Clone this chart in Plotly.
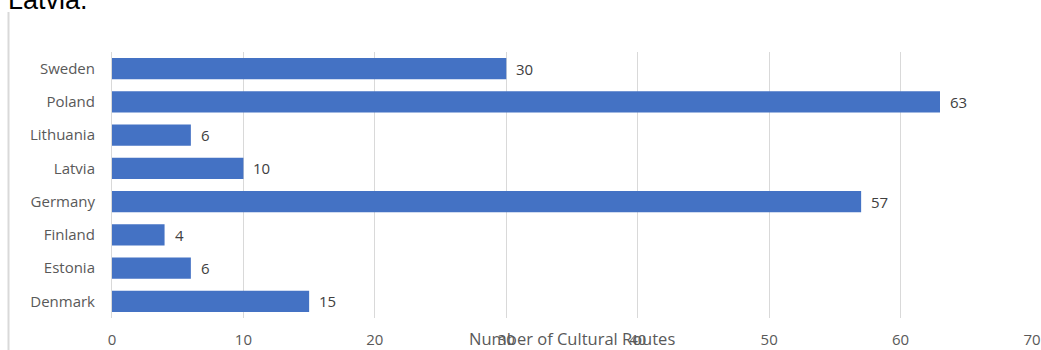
import plotly.graph_objects as go

countries = ["Denmark", "Estonia", "Finland", "Germany", "Latvia", "Lithuania", "Poland", "Sweden"]
routes = [15, 6, 4, 57, 10, 6, 63, 30]
x_ticks = [0, 10, 20, 30, 40, 50, 60, 70]
x_title = "Number of Cultural Routes"
top_text = "Latvia."

W, H = 1041, 350
ml, mr, mt, mb = 112, 9, 52, 32
pw = W - ml - mr
ph = H - mt - mb

font = "Open Sans, Noto Sans, sans-serif"
gray = "#595959"


def px_x(p):
    return (p - ml) / pw


def px_y(p):
    return (H - mb - p) / ph


fig = go.Figure(go.Bar(
    y=countries, x=routes, orientation="h",
    marker=dict(color="#4472C4", line=dict(width=0)),
    hoverinfo="x+y",
))

annotations = [
    dict(x=v, y=c, xref="x", yref="y", text=str(v), xanchor="left", yanchor="middle",
         xshift=8, showarrow=False, font=dict(family=font, size=15, color="#404040"))
    for c, v in zip(countries, routes)
]
annotations.append(dict(text=x_title, xref="paper", yref="paper",
                        x=0.5, y=px_y(338), xanchor="center", yanchor="middle",
                        showarrow=False, font=dict(family=font, size=16.5, color=gray)))
annotations.append(dict(text=top_text, xref="paper", yref="paper",
                        x=px_x(6), y=px_y(0), xanchor="left", yanchor="middle",
                        showarrow=False,
                        font=dict(family="Liberation Sans, sans-serif", size=27, color="#000000")))

fig.update_layout(
    width=W, height=H,
    margin=dict(l=ml, r=mr, t=mt, b=mb, autoexpand=False),
    plot_bgcolor="white", paper_bgcolor="white",
    bargap=0.365,
    showlegend=False,
    xaxis=dict(range=[0, 70], tickvals=x_ticks, showgrid=True, gridcolor="#d9d9d9",
               gridwidth=1, zeroline=False, showline=False, automargin=False,
               tickfont=dict(family=font, size=15, color=gray),
               ticklabelstandoff=11),
    yaxis=dict(showgrid=False, showline=True, linecolor="#d9d9d9", linewidth=1,
               automargin=False,
               tickfont=dict(family=font, size=15, color=gray),
               ticklabelstandoff=13),
    annotations=annotations,
    shapes=[
        dict(type="line", xref="paper", yref="paper",
             x0=px_x(8.5), x1=px_x(8.5), y0=px_y(350), y1=px_y(12),
             line=dict(color="#d9d9d9", width=2)),
    ],
)

fig.write_html("out.html", config={"displayModeBar": False},
               post_script="document.body.style.margin='0';document.body.style.overflow='hidden';")
